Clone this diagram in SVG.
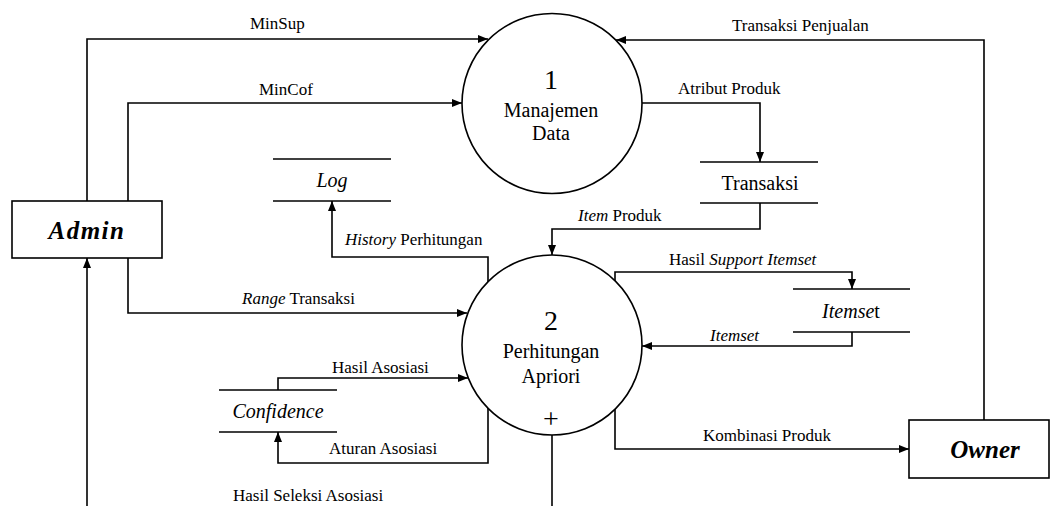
<svg xmlns="http://www.w3.org/2000/svg" width="1053" height="506" viewBox="0 0 1053 506" font-family="'Liberation Serif', serif">
  <style>
    text { font-family: 'Liberation Serif', serif; fill: #000; }
    .lbl { font-size: 17px; }
    .it { font-style: italic; }
    .proc { fill: #fff; stroke: #000; stroke-width: 1.6; }
    .num { font-size: 28px; text-anchor: middle; }
    .pname { font-size: 20px; text-anchor: middle; }
    .ent { fill: #fff; stroke: #000; stroke-width: 1.6; }
    .entname { font-size: 25px; font-weight: bold; font-style: italic; text-anchor: middle; }
    .store { stroke: #000; stroke-width: 1.6; }
    .sname { font-size: 20px; text-anchor: middle; }
    .flow { fill: none; stroke: #000; stroke-width: 1.6; }
    .arr { marker-end: url(#head); }
  </style>
  <defs>
    <marker id="head" markerUnits="userSpaceOnUse" markerWidth="11" markerHeight="9" refX="10" refY="4" orient="auto">
      <path d="M0,0 L10,4 L0,8 z" fill="#000"/>
    </marker>
  </defs>

  <rect width="1053" height="506" fill="#fff"/>

  <!-- data flows -->
  <g id="connectors">
    <path class="flow arr" d="M87,201 V39 H488"/>
    <path class="flow arr" d="M128,201 V103 H462"/>
    <path class="flow arr" d="M984,420 V40 H616"/>
    <path class="flow arr" d="M642,103 H760 V162"/>
    <path class="flow arr" d="M760,203 V229 H552 V255"/>
    <path class="flow arr" d="M488,282 V257 H332 V201"/>
    <path class="flow arr" d="M128,258 V313 H467"/>
    <path class="flow arr" d="M278,390 V378 H468"/>
    <path class="flow arr" d="M488,408 V463 H278 V432"/>
    <path class="flow arr" d="M615,281 V272 H852 V289"/>
    <path class="flow arr" d="M852,332 V346 H642"/>
    <path class="flow arr" d="M615,409 V449 H909"/>
    <path class="flow" d="M552,435 V506"/>
    <path class="flow arr" d="M87,506 V258"/>

    <text class="lbl" x="250" y="29">MinSup</text>
    <text class="lbl" x="259" y="95">MinCof</text>
    <text class="lbl" x="732" y="31">Transaksi Penjualan</text>
    <text class="lbl" x="678" y="94">Atribut Produk</text>
    <text class="lbl" x="578" y="221"><tspan class="it">Item</tspan> Produk</text>
    <text class="lbl" x="345" y="245"><tspan class="it">History</tspan> Perhitungan</text>
    <text class="lbl" x="242" y="304"><tspan class="it">Range</tspan> Transaksi</text>
    <text class="lbl" x="332" y="373">Hasil Asosiasi</text>
    <text class="lbl" x="329" y="454">Aturan Asosiasi</text>
    <text class="lbl" x="233" y="501">Hasil Seleksi Asosiasi</text>
    <text class="lbl" x="669" y="265">Hasil <tspan class="it">Support Itemset</tspan></text>
    <text class="lbl it" x="710" y="341">Itemset</text>
    <text class="lbl" x="703" y="441">Kombinasi Produk</text>
  </g>

  <!-- external entities -->
  <g id="admin">
    <rect class="ent" x="12" y="201" width="150" height="57"/>
    <text class="entname" x="87" y="239" letter-spacing="1.5">Admin</text>
  </g>
  <g id="owner">
    <rect class="ent" x="909" y="420" width="140" height="58"/>
    <text class="entname" x="985" y="458">Owner</text>
  </g>

  <!-- processes -->
  <g id="p1">
    <circle class="proc" cx="552" cy="103.5" r="90"/>
    <text class="num" x="551" y="89">1</text>
    <text class="pname" x="551" y="117">Manajemen</text>
    <text class="pname" x="551" y="140">Data</text>
  </g>
  <g id="p2">
    <circle class="proc" cx="552" cy="345" r="90"/>
    <text class="num" x="551" y="330">2</text>
    <text class="pname" x="551" y="358">Perhitungan</text>
    <text class="pname" x="551" y="383">Apriori</text>
    <text class="num" x="551" y="428">+</text>
  </g>

  <!-- data stores -->
  <g id="log">
    <line class="store" x1="273" y1="159" x2="391" y2="159"/>
    <line class="store" x1="273" y1="201" x2="391" y2="201"/>
    <text class="sname it" x="332" y="187">Log</text>
  </g>
  <g id="transaksi">
    <line class="store" x1="700" y1="162" x2="818" y2="162"/>
    <line class="store" x1="700" y1="203" x2="818" y2="203"/>
    <text class="sname" x="760" y="190">Transaksi</text>
  </g>
  <g id="itemset">
    <line class="store" x1="793" y1="289" x2="910" y2="289"/>
    <line class="store" x1="793" y1="332" x2="910" y2="332"/>
    <text class="sname" x="851" y="318"><tspan class="it">Itemse</tspan>t</text>
  </g>
  <g id="confidence">
    <line class="store" x1="219" y1="390" x2="337" y2="390"/>
    <line class="store" x1="219" y1="432" x2="337" y2="432"/>
    <text class="sname it" x="278" y="418">Confidence</text>
  </g>
</svg>
